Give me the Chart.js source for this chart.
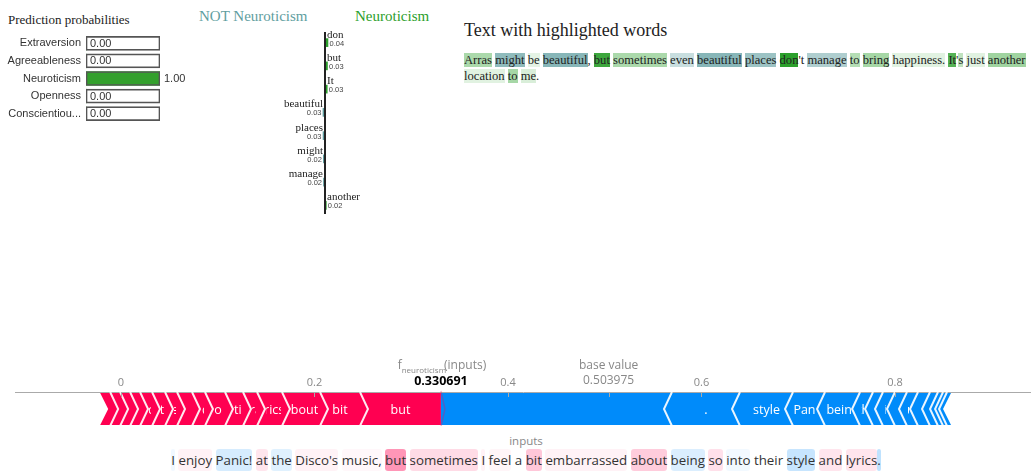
<!DOCTYPE html>
<html>
<head>
<meta charset="utf-8">
<title>Explanation</title>
<script src="https://cdn.jsdelivr.net/npm/chart.js@4.4.1/dist/chart.umd.min.js"></script>
<style>
  html,body{margin:0;padding:0;background:#fff}
  body{position:relative;width:1031px;height:471px;overflow:hidden}
  .abs{position:absolute}
  .serif{font-family:"Liberation Serif","Times New Roman",serif}
  #probTitle{left:8px;top:12px;font-size:13px;line-height:16px;color:#222}
  #notTitle{left:199px;top:7px;font-size:15px;line-height:18px;color:#5f9ea0}
  #posTitle{left:355px;top:7px;font-size:15px;line-height:18px;color:#2ca02c}
  #hlTitle{left:464px;top:19px;font-size:18px;line-height:22px;color:#222}
  #hlText{left:464px;top:52px;font-size:12.6px;line-height:16px;color:#222;white-space:nowrap}
  #inputsLbl{left:0;width:1052px;top:434px;text-align:center;font:11.5px/14px "Open Sans",sans-serif;color:#888}
  #tokText{left:0;width:1052px;top:449px;text-align:center;font:13.3px/22px "Open Sans",sans-serif;color:#333;white-space:nowrap}
  #tokText span{display:inline-block;border-radius:3px}
</style>
</head>
<body>
<div id="probTitle" class="abs serif">Prediction probabilities</div>
<div id="notTitle" class="abs serif">NOT Neuroticism</div>
<div id="posTitle" class="abs serif">Neuroticism</div>
<div id="hlTitle" class="abs serif">Text with highlighted words</div>
<div id="hlText" class="abs serif"></div>
<canvas id="probChart" class="abs" style="left:0;top:23px" width="200" height="111"></canvas>
<canvas id="limeChart" class="abs" style="left:180px;top:28px" width="290" height="192"></canvas>
<canvas id="forceChart" class="abs" style="left:0;top:355px" width="1031" height="71"></canvas>
<div id="inputsLbl" class="abs">inputs</div>
<div id="tokText" class="abs"></div>

<script>
// ── Data ──
const probLabels = ['Extraversion','Agreeableness','Neuroticism','Openness','Conscientiou...'];
const probValues = [0.00, 0.00, 1.00, 0.00, 0.00];

const limeWords   = ['don','but','It','beautiful','places','might','manage','another'];
const limeWeights = [0.041, 0.034, 0.031, -0.028, -0.027, -0.023, -0.021, 0.018];

// highlighted text (green = Neuroticism, teal = NOT Neuroticism)
const hlTokens  = ['Arras',' ','might',' ','be',' ','beautiful',', ','but',' ','sometimes',' ','even',' ','beautiful',' ','places',' ','don',"'t ",'manage',' ','to',' ','bring',' ','happiness.',' ','It',"'",'s',' ','just',' ','another','\n','location',' ','to',' ','me','.'];
const hlWeights = [0.4,0,-0.7,0,0.12,0,-0.75,0,0.92,0,0.4,0,-0.34,0,-0.75,0,-0.62,0,1.0,0,-0.5,0,0.35,0,0.42,0,0.14,0,0.8,0,0.3,0,0.14,0,0.45,0,0.14,0,0.42,0,0.18,0];

// force plot
const fxValue   = 0.330691;
const baseValue = 0.503975;
const redLabels = ['but','bit','about','lyrics','embarrassed','sometimes','so','and','I','feel','at','enjoy','I','a',"'s",'Disco'];
const redValues = [0.0837,0.0413,0.0393,0.0258,0.0145,0.0186,0.0207,0.0134,0.0155,0.0124,0.0134,0.0124,0.0103,0.0103,0.0103,0.0103];
const blueLabels = ['','.','style','Panic','being','the','into','ic','!','music',',','their','I','Dis','co'];
const blueValues = [0.2388,0.0703,0.0548,0.0331,0.0362,0.0134,0.0103,0.0124,0.0124,0.0114,0.0124,0.0083,0.0052,0.0041,0.0041];
const xMin = -0.10956, xMax = 0.94057;

// input tokens (+ red pushes up, - blue pushes down)
const shapTokens  = ['I',' ','enjoy',' ','Panic!',' ','at',' ','the',' ',"Disco's",' ','music,',' ','but',' ','sometimes',' ','I',' ','feel',' ','a',' ','bit',' ','embarrassed',' ','about',' ','being',' ','so',' ','into',' ','their',' ','style',' ','and',' ','lyrics','.'];
const shapWeights = [-0.06,0,0.05,0,-0.16,0,0.1,0,-0.12,0,0.05,0,0.03,0,0.41,0,0.14,0,0.05,0,0.04,0,0,0,0.22,0,0.05,0,0.2,0,-0.14,0,0.12,0,-0.05,0,0,0,-0.22,0,0.1,0,0.1,-0.25];

const GREEN = '#2ca02c', TEAL = '#5f9ea0', RED = '#ff0051', BLUE = '#008bfa';

Chart.defaults.animation = false;
Chart.defaults.plugins.legend.display = false;
Chart.defaults.plugins.tooltip.enabled = false;

// ── Highlighted texts ──
let hl = '';
hlTokens.forEach((t,i) => {
  if (t === '\n') { hl += '<br>'; return; }
  const w = hlWeights[i];
  const bg = w > 0 ? `rgba(44,160,44,${w})` : w < 0 ? `rgba(95,158,160,${-w})` : 'transparent';
  hl += `<span style="background:${bg}">${t.replace(/ /g,'&nbsp;')}</span>`;
});
document.getElementById('hlText').innerHTML = hl;

let tk = '';
shapTokens.forEach((t,i) => {
  const w = shapWeights[i];
  const bg = w > 0 ? `rgba(255,0,81,${w})` : w < 0 ? `rgba(0,138,250,${-w})` : 'transparent';
  tk += `<span style="background:${bg}">${t.replace(/ /g,'&nbsp;')}</span>`;
});
document.getElementById('tokText').innerHTML = tk;

// ── Prediction probabilities ──
const probText = {
  id: 'probText',
  afterDatasetsDraw(chart) {
    const ctx = chart.ctx, xs = chart.scales.x, meta = chart.getDatasetMeta(0);
    ctx.save();
    ctx.font = '11px "Liberation Sans", Arial, sans-serif';
    ctx.fillStyle = '#333'; ctx.textBaseline = 'middle'; ctx.textAlign = 'left';
    probValues.forEach((v,i) => ctx.fillText(v.toFixed(2), xs.getPixelForValue(v) + 4, meta.data[i].y + 0.5));
    ctx.restore();
  }
};
new Chart(document.getElementById('probChart'), {
  type: 'bar',
  data: {labels: probLabels, datasets: [
    {data: probValues, backgroundColor: '#33a02c', borderWidth: 0, order: 1},
    {data: probLabels.map(() => 1), backgroundColor: 'rgba(0,0,0,0)', borderColor: '#555', borderWidth: 1, borderSkipped: false, order: 0}
  ]},
  options: {
    indexAxis: 'y', responsive: false, maintainAspectRatio: false,
    layout: {padding: {top: 0, bottom: 0, right: 40, left: 0}},
    datasets: {bar: {grouped: false, barThickness: 14}},
    scales: {
      x: {min: 0, max: 1, display: false},
      y: {ticks: {color: '#333', font: {family: '"Liberation Sans", Arial, sans-serif', size: 11}, padding: 5, autoSkip: false},
          grid: {display: false, drawTicks: false}, border: {display: false},
          afterFit(s) { s.width = 86; }}
    }
  },
  plugins: [probText]
});

// ── LIME weights ──
const limeText = {
  id: 'limeText',
  afterDatasetsDraw(chart) {
    const ctx = chart.ctx, xs = chart.scales.x, a = chart.chartArea, x0 = xs.getPixelForValue(0);
    ctx.save();
    ctx.strokeStyle = '#222'; ctx.lineWidth = 2;
    ctx.beginPath(); ctx.moveTo(x0, a.top + 1); ctx.lineTo(x0, a.bottom - 3); ctx.stroke();
    ctx.textBaseline = 'middle';
    chart.getDatasetMeta(0).data.forEach((el,i) => {
      const w = limeWeights[i], pos = w > 0;
      ctx.textAlign = pos ? 'left' : 'right';
      ctx.fillStyle = '#222'; ctx.font = '11px "Liberation Serif", serif';
      ctx.fillText(limeWords[i], pos ? x0 + 2 : x0 - 2, el.y - 8);
      ctx.fillStyle = '#444'; ctx.font = '7.5px "Liberation Sans", sans-serif';
      ctx.fillText(Math.abs(w).toFixed(2), pos ? el.x + 1.5 : el.x - 1.5, el.y + 1);
    });
    ctx.restore();
  }
};
new Chart(document.getElementById('limeChart'), {
  type: 'bar',
  data: {labels: limeWords, datasets: [{
    data: limeWeights, backgroundColor: limeWeights.map(w => w > 0 ? GREEN : TEAL), borderWidth: 0
  }]},
  options: {
    indexAxis: 'y', responsive: false, maintainAspectRatio: false,
    layout: {padding: {top: 3, bottom: 3, left: 0, right: 0}},
    datasets: {bar: {barThickness: 8}},
    scales: {x: {min: -2, max: 2, display: false}, y: {display: false}}
  },
  plugins: [limeText]
});

// ── Force plot ──
const segs = [];
let cur = fxValue;
redValues.forEach((v,i) => { segs.push({from: cur - v, to: cur, label: redLabels[i], side: 1, first: i === 0, last: i === redValues.length - 1}); cur -= v; });
cur = fxValue;
blueValues.forEach((v,i) => { segs.push({from: cur, to: cur + v, label: blueLabels[i], side: -1, first: i === 0, last: i === blueValues.length - 1}); cur += v; });

const forceDraw = {
  id: 'forceDraw',
  afterDatasetsDraw(chart) {
    const ctx = chart.ctx, xs = chart.scales.x, a = chart.chartArea, tip = 8;
    ctx.save();
    const shapes = segs.map((s,i) => {
      const el = chart.getDatasetMeta(i).data[0];
      return {s, x0: Math.min(el.x, el.base), x1: Math.max(el.x, el.base), top: el.y - el.height / 2, bot: el.y + el.height / 2, mid: el.y};
    });
    // blocks
    shapes.forEach(({s,x0,x1,top,bot,mid}) => {
      ctx.beginPath();
      if (s.side > 0) {
        ctx.moveTo(x0, top); ctx.lineTo(x1, top); ctx.lineTo(x1 + (s.first ? 0 : tip), mid);
        ctx.lineTo(x1, bot); ctx.lineTo(x0, bot); ctx.lineTo(x0 + tip, mid);
      } else {
        ctx.moveTo(x0, top); ctx.lineTo(x1, top); ctx.lineTo(x1 - tip, mid);
        ctx.lineTo(x1, bot); ctx.lineTo(x0, bot); ctx.lineTo(x0 - (s.first ? 0 : tip), mid);
      }
      ctx.closePath();
      ctx.fillStyle = s.side > 0 ? RED : BLUE;
      ctx.fill();
    });
    // separators
    ctx.strokeStyle = 'rgba(255,255,255,0.9)'; ctx.lineWidth = 2;
    shapes.forEach(({s,x0,x1,top,bot,mid}) => {
      if (s.side > 0 && !s.last) {
        ctx.beginPath(); ctx.moveTo(x0, top - 1); ctx.lineTo(x0 + tip, mid); ctx.lineTo(x0, bot + 1); ctx.stroke();
      }
      if (s.side < 0 && !s.first) {
        ctx.beginPath(); ctx.moveTo(x0, top - 1); ctx.lineTo(x0 - tip, mid); ctx.lineTo(x0, bot + 1); ctx.stroke();
      }
    });
    // labels centred on the block, clipped to its body
    ctx.font = '12.5px "Open Sans", sans-serif';
    ctx.fillStyle = '#fff'; ctx.textAlign = 'center'; ctx.textBaseline = 'middle';
    shapes.forEach(({s,x0,x1,top,bot,mid}) => {
      if (!s.label) return;
      const l = s.side > 0 ? x0 + tip : x0, r = s.side > 0 ? x1 : x1 - tip;
      if (r - l < 3) return;
      ctx.save();
      ctx.beginPath(); ctx.rect(l + 1, top, r - l - 2, bot - top); ctx.clip();
      ctx.fillText(s.label, (x0 + x1) / 2, mid + 1);
      ctx.restore();
    });
    // f(x) marker
    const fx = xs.getPixelForValue(fxValue), top = a.top, bot = a.bottom, mid = (top + bot) / 2;
    ctx.strokeStyle = 'rgba(255,0,81,0.3)'; ctx.lineWidth = 1.5;
    ctx.beginPath(); ctx.moveTo(fx, top - 1); ctx.lineTo(fx + 4, mid); ctx.lineTo(fx, bot + 1); ctx.stroke();
    // tick marks
    ctx.strokeStyle = '#aaa'; ctx.lineWidth = 1;
    xs.ticks.map(t => t.value).concat([baseValue]).forEach(v => {
      const px = Math.round(xs.getPixelForValue(v)) + 0.5;
      ctx.beginPath(); ctx.moveTo(px, top); ctx.lineTo(px, top + 5); ctx.stroke();
    });
    ctx.restore();
  },
  afterDraw(chart) {
    const ctx = chart.ctx, xs = chart.scales.x;
    const fx = xs.getPixelForValue(fxValue), bx = xs.getPixelForValue(baseValue);
    ctx.save();
    ctx.textBaseline = 'middle'; ctx.fillStyle = '#888';
    // f_neuroticism(inputs)
    const big = '12px "Open Sans", sans-serif', small = '8px "Open Sans", sans-serif';
    ctx.font = big; const wf = ctx.measureText('f').width, wi = ctx.measureText('(inputs)').width;
    ctx.font = small; const ws = ctx.measureText('neuroticism').width;
    let x = fx - (wf + ws + wi) / 2 + 2;
    ctx.textAlign = 'left';
    ctx.font = big; ctx.fillText('f', x, 11);
    ctx.font = small; ctx.fillText('neuroticism', x + wf, 16);
    ctx.font = big; ctx.fillText('(inputs)', x + wf + ws - 2, 11);
    ctx.textAlign = 'center';
    ctx.fillText('base value', bx, 11);
    ctx.fillText(baseValue.toFixed(6), bx, 26);
    ctx.fillStyle = '#000'; ctx.font = 'bold 12.5px "Open Sans", sans-serif';
    ctx.fillText(fxValue.toFixed(6), fx, 26);
    ctx.restore();
  }
};
new Chart(document.getElementById('forceChart'), {
  type: 'bar',
  data: {labels: ['inputs'], datasets: segs.map(s => ({data: [[s.from, s.to]], backgroundColor: 'rgba(0,0,0,0)', borderWidth: 0}))},
  options: {
    indexAxis: 'y', responsive: false, maintainAspectRatio: false,
    layout: {padding: {left: 15, right: 0, top: 17, bottom: 0}},
    datasets: {bar: {grouped: false, barThickness: 32}},
    scales: {
      x: {type: 'linear', position: 'top', min: xMin, max: xMax,
          ticks: {stepSize: 0.2, includeBounds: false, color: '#888', font: {family: '"Open Sans", sans-serif', size: 11}, padding: 3},
          grid: {display: false, drawTicks: false}, border: {display: true, color: '#aaa'},
          afterFit(s) { s.height = 20; }},
      y: {display: false}
    }
  },
  plugins: [forceDraw]
});
</script>
</body>
</html>
